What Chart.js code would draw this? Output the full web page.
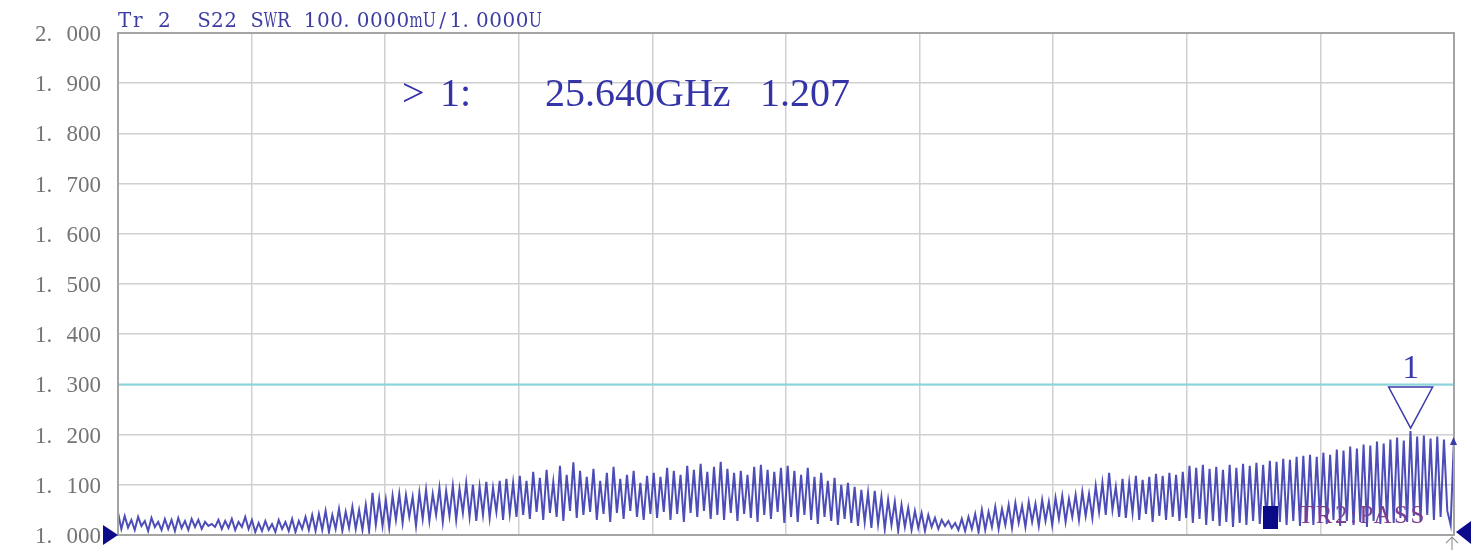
<!DOCTYPE html>
<html>
<head>
<meta charset="utf-8">
<title>S22 SWR</title>
<script src="https://cdn.jsdelivr.net/npm/chart.js@4.4.1/dist/chart.umd.min.js"></script>
<style>
  html, body { margin: 0; padding: 0; background: #fff; }
  canvas { display: block; }
</style>
</head>
<body>
<canvas id="swrChart" width="1476" height="550"></canvas>
<script>
// sweep (GHz) and trace values, left to right
const startGHz = 0.01;
const stopGHz = 26.5;

const swrValues = [
  1.045,1.012,1.038,1.015,1.030,1.010,1.036,1.018,1.028,1.008,1.034,1.016,1.026,1.010,1.032,1.012,1.030,1.008,1.034,1.014,
  1.028,1.010,1.032,1.016,1.030,1.012,1.026,1.018,1.022,1.016,1.030,1.012,1.028,1.014,1.032,1.010,1.026,1.016,1.036,1.012,
  1.030,1.006,1.024,1.008,1.028,1.010,1.022,1.006,1.030,1.012,1.026,1.008,1.032,1.006,1.028,1.012,1.036,1.010,1.040,1.008,
  1.042,1.010,1.048,1.006,1.040,1.012,1.052,1.008,1.046,1.014,1.056,1.012,1.050,1.010,1.060,1.008,1.084,1.020,1.072,1.018,
  1.070,1.014,1.078,1.030,1.082,1.024,1.080,1.036,1.076,1.018,1.084,1.032,1.090,1.028,1.082,1.040,1.094,1.026,1.088,1.038,
  1.098,1.030,1.092,1.044,1.104,1.036,1.100,1.028,1.096,1.040,1.106,1.034,1.094,1.046,1.108,1.030,1.112,1.042,1.104,1.036,
  1.118,1.040,1.108,1.032,1.126,1.046,1.114,1.030,1.130,1.044,1.106,1.036,1.138,1.028,1.120,1.048,1.145,1.034,1.128,1.040,
  1.116,1.046,1.132,1.030,1.108,1.042,1.124,1.026,1.136,1.044,1.112,1.032,1.120,1.048,1.128,1.036,1.104,1.030,1.118,1.042,
  1.124,1.034,1.116,1.046,1.134,1.030,1.128,1.042,1.120,1.026,1.138,1.044,1.130,1.036,1.142,1.048,1.126,1.032,1.136,1.040,
  1.146,1.030,1.132,1.044,1.124,1.028,1.128,1.042,1.120,1.034,1.136,1.026,1.140,1.040,1.130,1.032,1.126,1.046,1.134,1.024,
  1.138,1.036,1.128,1.026,1.120,1.040,1.134,1.030,1.116,1.022,1.124,1.036,1.108,1.028,1.114,1.020,1.100,1.032,1.104,1.024,
  1.096,1.018,1.090,1.026,1.084,1.014,1.088,1.022,1.076,1.012,1.070,1.020,1.066,1.008,1.060,1.016,1.054,1.010,1.048,1.014,
  1.044,1.008,1.040,1.016,1.034,1.012,1.030,1.018,1.028,1.014,1.024,1.010,1.032,1.008,1.036,1.012,1.042,1.006,1.050,1.010,
  1.046,1.016,1.056,1.012,1.052,1.020,1.060,1.014,1.064,1.024,1.058,1.016,1.066,1.026,1.062,1.018,1.070,1.028,1.066,1.020,
  1.074,1.032,1.078,1.026,1.072,1.036,1.080,1.030,1.086,1.038,1.082,1.034,1.098,1.046,1.104,1.040,1.124,1.050,1.096,1.036,
  1.112,1.034,1.104,1.044,1.118,1.030,1.110,1.042,1.116,1.026,1.122,1.038,1.118,1.030,1.124,1.036,1.120,1.028,1.126,1.034,
  1.138,1.024,1.134,1.032,1.140,1.020,1.132,1.028,1.136,1.018,1.130,1.026,1.140,1.016,1.134,1.024,1.142,1.020,1.138,1.028,
  1.144,1.022,1.140,1.030,1.148,1.018,1.146,1.026,1.152,1.020,1.150,1.028,1.156,1.018,1.158,1.026,1.160,1.020,1.156,1.030,
  1.164,1.022,1.160,1.030,1.170,1.018,1.168,1.028,1.176,1.020,1.172,1.026,1.180,1.016,1.178,1.028,1.186,1.022,1.182,1.030,
  1.190,1.024,1.194,1.034,1.188,1.026,1.207,1.038,1.196,1.028,1.198,1.040,1.192,1.030,1.196,1.036,1.190,1.048,1.020,1.192
];

const yTickValues = [2.0, 1.9, 1.8, 1.7, 1.6, 1.5, 1.4, 1.3, 1.2, 1.1, 1.0];
const yTickLabels = ["2. 000", "1. 900", "1. 800", "1. 700", "1. 600", "1. 500",
                     "1. 400", "1. 300", "1. 200", "1. 100", "1. 000"];

const limitValue = 1.3;
const markerGHz = 25.64;
const markerValue = 1.207;

const headerText = "Tr 2  S22 SWR 100.0000mU/1.0000U";
const statusText = "TR2:PASS";

// fixed pitch text, each glyph centred in its cell (dots sit left)
function drawMono(ctx, text, x, y, pitch) {
  for (let i = 0; i < text.length; i++) {
    const ch = text[i];
    if (ch === " ") continue;
    let w = Math.min(ctx.measureText(ch).width, pitch);
    let cx = x + i * pitch + (pitch - w) / 2;
    if (ch === ".") cx = x + i * pitch;
    ctx.fillText(ch, cx, y, pitch);
  }
}

const overlay = {
  id: "overlay",
  afterDraw: (chart) => {
    const ctx = chart.ctx;
    const area = chart.chartArea;
    const xs = chart.scales.x;
    const ys = chart.scales.y;
    ctx.save();

    // frame
    ctx.strokeStyle = "#a4a4a4";
    ctx.lineWidth = 2;
    ctx.strokeRect(area.left, area.top, area.right - area.left, area.bottom - area.top);

    // y labels: "1." flush left, digits flush right
    ctx.fillStyle = "#747474";
    ctx.font = '23px "Liberation Serif"';
    ctx.textBaseline = "middle";
    yTickValues.forEach((v, i) => {
      const parts = yTickLabels[i].split(" ");
      const y = ys.getPixelForValue(v) + 2;
      ctx.textAlign = "left";
      ctx.fillText(parts[0], 35, y);
      ctx.textAlign = "right";
      ctx.fillText(parts[1], 101, y);
    });

    // header
    ctx.textAlign = "left";
    ctx.textBaseline = "alphabetic";
    ctx.fillStyle = "#3c3ca2";
    ctx.font = '20px "DejaVu Serif"';
    drawMono(ctx, headerText, 118, 27, 13.25);

    // marker readout
    ctx.fillStyle = "#3434a8";
    ctx.font = '40px "Liberation Serif"';
    ctx.fillText(">", 402, 106);
    ctx.fillText("1:", 440, 106);
    ctx.fillText(markerGHz.toFixed(3) + "GHz", 545, 106);
    ctx.fillText(markerValue.toFixed(3), 760, 106);

    // marker triangle
    const mx = xs.getPixelForValue(markerGHz);
    const my = ys.getPixelForValue(markerValue) - 3;
    ctx.fillStyle = "#fff";
    ctx.strokeStyle = "#3a3aac";
    ctx.lineWidth = 1.5;
    ctx.beginPath();
    ctx.moveTo(mx - 22, my - 41);
    ctx.lineTo(mx + 22, my - 41);
    ctx.lineTo(mx, my);
    ctx.closePath();
    ctx.fill();
    ctx.stroke();
    ctx.fillStyle = "#3a3aac";
    ctx.font = '34px "Liberation Serif"';
    ctx.textAlign = "center";
    ctx.fillText("1", mx, my - 50);

    // pass indicator
    ctx.textAlign = "left";
    ctx.fillStyle = "#0a0a86";
    ctx.fillRect(1263, 506, 15, 23);
    ctx.fillStyle = "#7c3e90";
    ctx.font = '25px "Liberation Serif"';
    ctx.letterSpacing = "2.5px";
    ctx.fillText(statusText, 1298, 523);
    ctx.letterSpacing = "0px";

    // reference arrows at the frame
    ctx.fillStyle = "#0b0b8c";
    ctx.beginPath();
    ctx.moveTo(103, 525);
    ctx.lineTo(area.left, ys.getPixelForValue(1.0));
    ctx.lineTo(103, 545);
    ctx.closePath();
    ctx.fill();
    ctx.beginPath();
    ctx.moveTo(1471, 521);
    ctx.lineTo(1456, 532);
    ctx.lineTo(1471, 544);
    ctx.closePath();
    ctx.fill();

    // small end-of-trace arrow
    ctx.fillStyle = "#3a3aac";
    ctx.beginPath();
    ctx.moveTo(area.right - 4, 445);
    ctx.lineTo(area.right + 3, 445);
    ctx.lineTo(area.right - 0.5, 437);
    ctx.closePath();
    ctx.fill();

    // grey cursor mark under the corner
    ctx.strokeStyle = "#9a9a9a";
    ctx.lineWidth = 1.2;
    ctx.beginPath();
    ctx.moveTo(1446, 543);
    ctx.lineTo(1452, 537);
    ctx.lineTo(1458, 543);
    ctx.moveTo(1452, 537);
    ctx.lineTo(1452, 550);
    ctx.stroke();

    ctx.restore();
  },
};

const step = (stopGHz - startGHz) / (swrValues.length - 1);

new Chart(document.getElementById("swrChart").getContext("2d"), {
  type: "line",
  data: {
    datasets: [
      {
        label: "S22 SWR",
        data: swrValues.map((v, i) => ({ x: startGHz + i * step, y: v })),
        borderColor: "rgba(58, 58, 176, 0.9)",
        borderWidth: 2,
        pointRadius: 0,
        tension: 0,
      },
      {
        label: "limit",
        data: [
          { x: startGHz, y: limitValue },
          { x: stopGHz, y: limitValue },
        ],
        borderColor: "#86d6dd",
        borderWidth: 2,
        pointRadius: 0,
      },
    ],
  },
  options: {
    responsive: false,
    animation: false,
    layout: { padding: { top: 33, right: 22, bottom: 15, left: 0 } },
    plugins: { legend: { display: false }, tooltip: { enabled: false } },
    scales: {
      x: {
        type: "linear",
        min: startGHz,
        max: stopGHz,
        afterBuildTicks: (s) => {
          s.ticks = [];
          for (let i = 0; i <= 10; i++) {
            s.ticks.push({ value: startGHz + (i * (stopGHz - startGHz)) / 10 });
          }
        },
        ticks: { display: false },
        grid: { color: "#d0d0d0", lineWidth: 1.5, drawTicks: false },
        border: { display: false },
      },
      y: {
        min: 1,
        max: 2,
        ticks: { display: false, stepSize: 0.1 },
        afterFit: (s) => {
          s.width = 118;
        },
        grid: { color: "#d0d0d0", lineWidth: 1.5, drawTicks: false },
        border: { display: false },
      },
    },
  },
  plugins: [overlay],
});
</script>
</body>
</html>
